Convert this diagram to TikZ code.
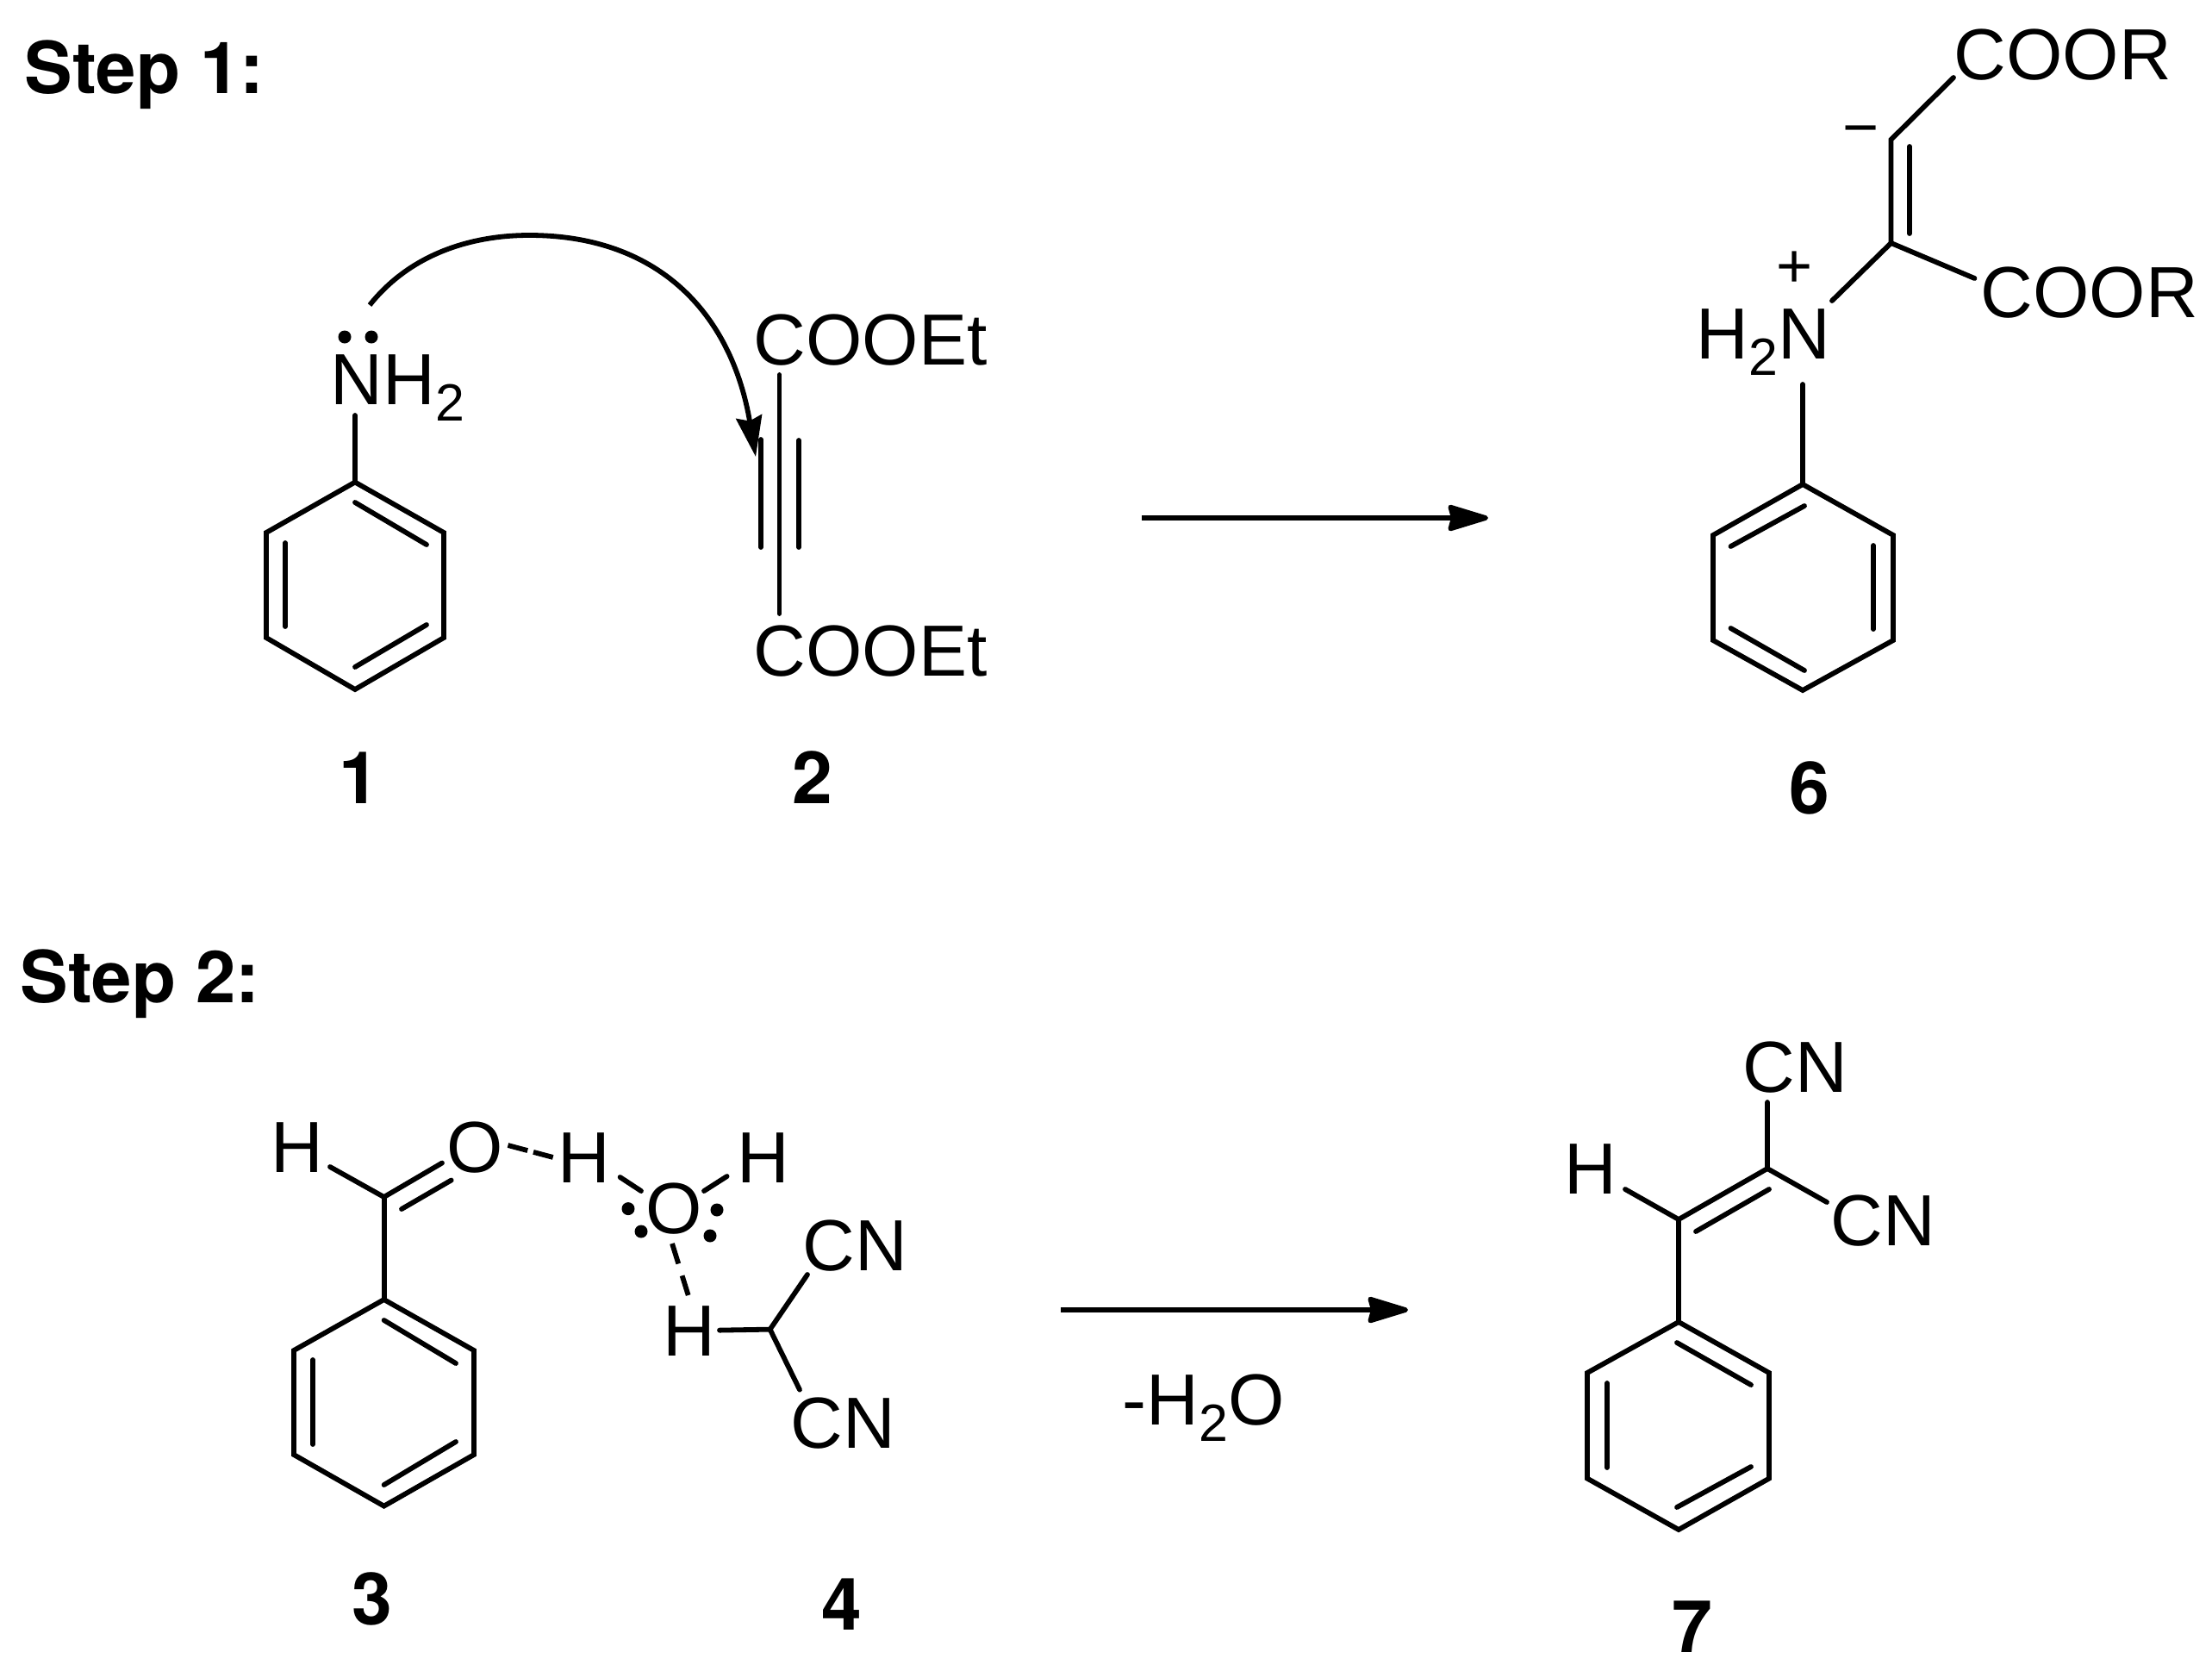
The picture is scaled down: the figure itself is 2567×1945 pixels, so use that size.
\documentclass[tikz,border=0pt]{standalone}
\usepackage{fontspec}
\setmainfont{Liberation Sans}
\newfontfamily\labelfont{TeX Gyre Heros}
\usetikzlibrary{arrows.meta}
\newcommand{\subnum}[1]{\raisebox{-0.19cm}{\fontsize{17.3}{20}\selectfont #1}}

\begin{document}
\begin{tikzpicture}[x=0.01cm, y=-0.01cm,
        every node/.style={font=\fontsize{23.9}{28}\selectfont, inner sep=0pt, anchor=base west},
        bond/.style={line width=0.058cm, line cap=round},
        rxnarrow/.style={line width=0.055cm, -{Stealth[length=0.54cm, width=0.32cm, inset=0.04cm, round]}},
        hbond/.style={bond, line cap=butt},
        lonepair/.style={circle, fill=black, minimum size=0.15cm, anchor=center},
        charge/.style={font=\fontsize{20.5}{24}\selectfont, anchor=center},
        heading/.style={font=\fontsize{23.7}{28}\labelfont\bfseries\selectfont},
        cmpd/.style={font=\fontsize{23.9}{28}\labelfont\bfseries\selectfont, anchor=base}]
    \useasboundingbox (0,0) rectangle (2567,1945);

    % Headings
    \node[heading] (stepone) at (28,108) {Step 1:};
    \node[heading] (steptwo) at (23,1163) {Step 2:};

    % Compound 1: aniline (left, top row)
    \node (amine) at (383,469) {NH\subnum{2}};
    \node[lonepair] (padA) at (400,391) {};
    \node[lonepair] (padB) at (431,391) {};
    \coordinate (aN) at (412,482);
    \coordinate (a1) at (412,559.5); \coordinate (a2) at (515,618); \coordinate (a3) at (515,740);
    \coordinate (a4) at (412,800); \coordinate (a5) at (309,740); \coordinate (a6) at (309,618);
    \coordinate (a7) at (412,583); \coordinate (a8) at (495,632); \coordinate (a9) at (331,630);
    \coordinate (a10) at (331,727); \coordinate (a11) at (412,774); \coordinate (a12) at (495,725);
    \draw[bond] (aN) -- (a1);
    \draw[bond] (a1) -- (a2) -- (a3) -- (a4) -- (a5) -- (a6) -- cycle;
    \draw[bond] (a7) -- (a8);
    \draw[bond] (a9) -- (a10);
    \draw[bond] (a11) -- (a12);
    \node[cmpd] (lblone) at (417,932) {1};

    % Compound 2: alkyne diester (center left)
    \node (esterA) at (874,423) {COOEt};
    \node (esterB) at (874,784) {COOEt};
    \coordinate (b1) at (904.5,435); \coordinate (b2) at (904.5,712);
    \coordinate (b3) at (883,510); \coordinate (b4) at (883,635);
    \coordinate (b5) at (927,511); \coordinate (b6) at (927,635);
    \draw[bond] (b1) -- (b2);
    \draw[bond] (b3) -- (b4);
    \draw[bond] (b5) -- (b6);
    \node[cmpd] (lbltwo) at (943,932) {2};

    % Curved arrow from the lone pair to the triple bond
    \coordinate (curveA) at (429,354); \coordinate (curveB) at (614,273); \coordinate (curveC) at (877,530);
    \draw[line width=0.058cm, -{Stealth[length=0.47cm, width=0.3cm, inset=0.05cm]}] (curveA) .. controls (480,290) and (555,273) .. (curveB) .. controls (770,273) and (850,370) .. (curveC);

    % Reaction arrow of step 1
    \coordinate (arrowA) at (1325,601); \coordinate (arrowB) at (1727,601);
    \draw[rxnarrow] (arrowA) -- (arrowB);

    % Compound 6 (top right)
    \node (ammonium) at (1968,416) {H\subnum{2}N};
    \node[charge] (plus) at (2083,313) {+};
    \node[charge] (minus) at (2160,159) {−};
    \node (esterC) at (2267,92) {COOR};
    \node (esterD) at (2298,368) {COOR};
    \coordinate (cA) at (2194.5,282); \coordinate (cB) at (2194.5,162);
    \coordinate (cC) at (2216,170); \coordinate (cD) at (2216,271);
    \coordinate (cE) at (2267,90); \coordinate (cF) at (2291.5,323); \coordinate (cG) at (2126,349);
    \draw[bond] (cG) -- (cA) -- (cB) -- (cE);
    \draw[bond] (cA) -- (cF);
    \draw[bond] (cC) -- (cD);
    \coordinate (cN) at (2092,446);
    \coordinate (c1) at (2092,562); \coordinate (c2) at (2197,621); \coordinate (c3) at (2197,743);
    \coordinate (c4) at (2092,801); \coordinate (c5) at (1988,743); \coordinate (c6) at (1988,621);
    \coordinate (c7) at (2094,587); \coordinate (c8) at (2008.5,634); \coordinate (c9) at (2174,633);
    \coordinate (c10) at (2174,730); \coordinate (c11) at (2008.5,729); \coordinate (c12) at (2094,778);
    \draw[bond] (cN) -- (c1);
    \draw[bond] (c1) -- (c2) -- (c3) -- (c4) -- (c5) -- (c6) -- cycle;
    \draw[bond] (c7) -- (c8);
    \draw[bond] (c9) -- (c10);
    \draw[bond] (c11) -- (c12);
    \node[cmpd] (lblsix) at (2100,944) {6};

    % Compound 3: benzaldehyde (bottom left)
    \node (hydA) at (314,1360) {H};
    \node (oxyA) at (518,1360) {O};
    \coordinate (dH) at (383,1354); \coordinate (dC) at (445.6,1389); \coordinate (dO) at (513,1349.5);
    \coordinate (dP) at (466,1403); \coordinate (dQ) at (523.7,1369.5);
    \draw[bond] (dH) -- (dC) -- (dO);
    \draw[bond] (dP) -- (dQ);
    \coordinate (d1) at (445.6,1508); \coordinate (d2) at (550,1567); \coordinate (d3) at (550,1688);
    \coordinate (d4) at (445.6,1747.6); \coordinate (d5) at (341,1688); \coordinate (d6) at (341,1567);
    \coordinate (d7) at (445.6,1532); \coordinate (d8) at (529,1582); \coordinate (d9) at (363,1578);
    \coordinate (d10) at (363,1676); \coordinate (d11) at (445.6,1723); \coordinate (d12) at (529,1673);
    \draw[bond] (dC) -- (d1);
    \draw[bond] (d1) -- (d2) -- (d3) -- (d4) -- (d5) -- (d6) -- cycle;
    \draw[bond] (d7) -- (d8);
    \draw[bond] (d9) -- (d10);
    \draw[bond] (d11) -- (d12);
    \node[cmpd] (lblthree) at (432,1885) {3};

    % Water between 3 and 4
    \node (hydB) at (647,1372) {H};
    \node (oxyB) at (749,1431) {O};
    \node (hydC) at (855,1372) {H};
    \node[lonepair] (padC) at (729,1402.6) {};
    \node[lonepair] (padD) at (832,1404) {};
    \node[lonepair] (padE) at (744,1429) {};
    \node[lonepair] (padF) at (824,1434) {};
    \coordinate (wA) at (589.5,1329); \coordinate (wB) at (642,1343);
    \coordinate (wC) at (719.6,1366); \coordinate (wD) at (744,1382);
    \coordinate (wE) at (843.6,1365); \coordinate (wF) at (817,1382);
    \coordinate (wG) at (780,1443); \coordinate (wH) at (798.7,1503);
    \draw[hbond, dash pattern=on 0.235cm off 0.07cm] (wA) -- (wB);
    \draw[bond] (wC) -- (wD);
    \draw[bond] (wE) -- (wF);
    \draw[hbond, dash pattern=on 0.245cm off 0.145cm] (wG) -- (wH);

    % Compound 4: malononitrile
    \node (hydD) at (769,1573) {H};
    \node (nitA) at (931,1474) {CN};
    \node (nitB) at (917,1680) {CN};
    \coordinate (eH) at (835,1543.6); \coordinate (eC) at (893.6,1542.6);
    \coordinate (eA) at (937,1479); \coordinate (eB) at (928,1612.6);
    \draw[bond] (eH) -- (eC) -- (eA);
    \draw[bond] (eC) -- (eB);
    \node[cmpd] (lblfour) at (977,1891) {4};

    % Reaction arrow of step 2
    \coordinate (arrowC) at (1231,1520); \coordinate (arrowD) at (1634,1520);
    \draw[rxnarrow] (arrowC) -- (arrowD);
    \node (water) at (1302,1653) {-H\subnum{2}O};

    % Compound 7 (bottom right)
    \node (hydE) at (1815,1385) {H};
    \node (nitC) at (2022,1267) {CN};
    \node (nitD) at (2124,1445) {CN};
    \coordinate (fH) at (1886,1380); \coordinate (fA) at (1948,1415); \coordinate (fB) at (2051,1356);
    \coordinate (fC) at (1968,1429); \coordinate (fD) at (2053,1380);
    \coordinate (fE) at (2051,1279); \coordinate (fF) at (2120,1395);
    \draw[bond] (fH) -- (fA) -- (fB) -- (fE);
    \draw[bond] (fB) -- (fF);
    \draw[bond] (fC) -- (fD);
    \coordinate (f1) at (1948,1534); \coordinate (f2) at (2053,1593); \coordinate (f3) at (2053,1715.6);
    \coordinate (f4) at (1948,1775); \coordinate (f5) at (1842,1715.6); \coordinate (f6) at (1842,1593);
    \coordinate (f7) at (1946,1558); \coordinate (f8) at (2032,1607); \coordinate (f9) at (1865,1605);
    \coordinate (f10) at (1865,1703); \coordinate (f11) at (1946,1749); \coordinate (f12) at (2032,1702);
    \draw[bond] (fA) -- (f1);
    \draw[bond] (f1) -- (f2) -- (f3) -- (f4) -- (f5) -- (f6) -- cycle;
    \draw[bond] (f7) -- (f8);
    \draw[bond] (f9) -- (f10);
    \draw[bond] (f11) -- (f12);
    \node[cmpd] (lblseven) at (1964,1917) {7};
\end{tikzpicture}
\end{document}
